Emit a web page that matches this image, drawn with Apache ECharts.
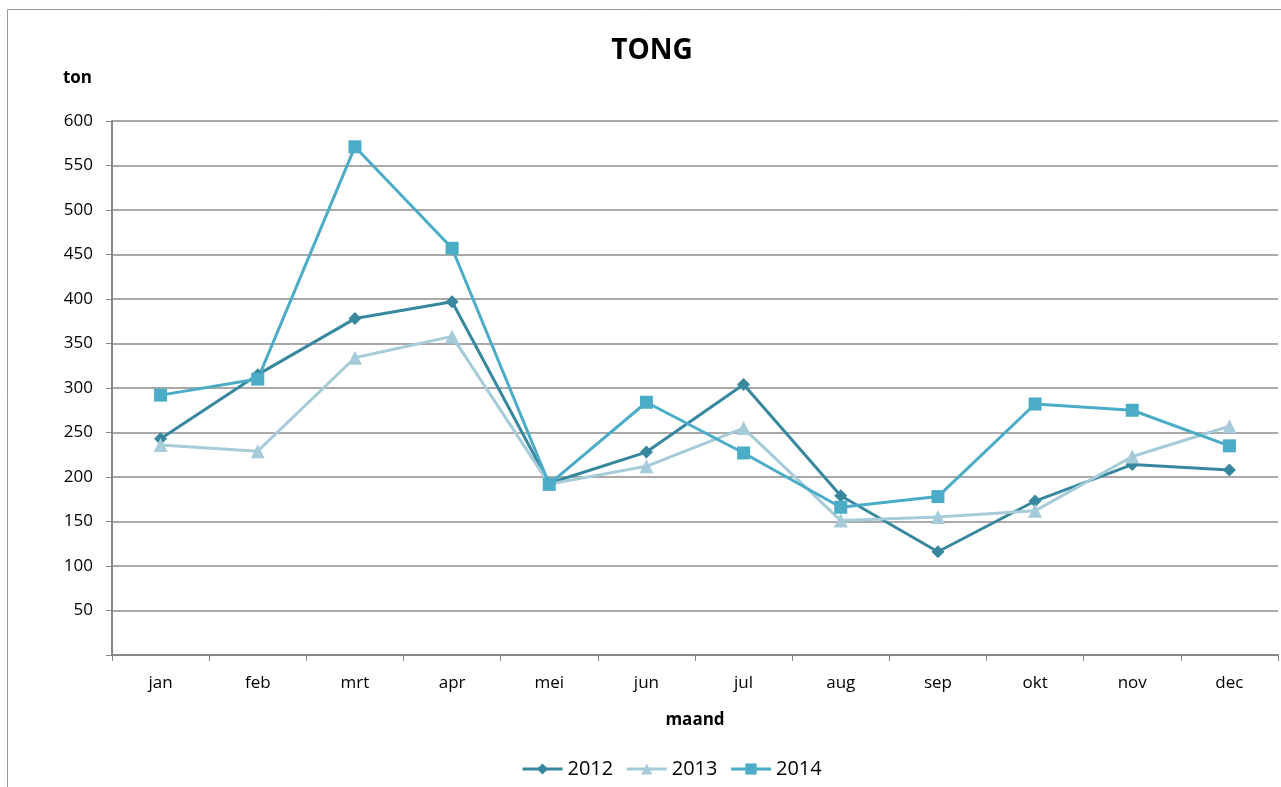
<!DOCTYPE html>
<html>
<head>
<meta charset="utf-8">
<script src="https://cdn.jsdelivr.net/npm/echarts@6/dist/echarts.min.js"></script>
<style>
  html, body { margin: 0; padding: 0; background: #fff; }
  #chart { width: 1281px; height: 787px; }
</style>
</head>
<body>
<div id="chart"></div>
<script>
// data
var months = ['jan', 'feb', 'mrt', 'apr', 'mei', 'jun', 'jul', 'aug', 'sep', 'okt', 'nov', 'dec'];
var data2012 = [243, 315, 378, 397, 193, 228, 304, 179, 116, 173, 214, 208];
var data2013 = [236, 229, 334, 358, 192, 212, 255, 151, 155, 162, 223, 257];
var data2014 = [292, 310, 571, 457, 192, 284, 227, 166, 178, 282, 275, 235];

var font = '"Open Sans", "Noto Sans", sans-serif';
var chart = echarts.init(document.getElementById('chart'));

function line(name, data, color, symbol, size) {
  return {
    name: name,
    type: 'line',
    data: data,
    symbol: symbol,
    symbolSize: size,
    showAllSymbol: true,
    lineStyle: { color: color, width: 3 },
    itemStyle: { color: color },
    animation: false
  };
}

chart.setOption({
  animation: false,
  title: {
    text: 'TONG',
    left: 647,
    top: 32,
    textAlign: 'center',
    textStyle: { fontFamily: font, fontSize: 28, fontWeight: 'bold', color: '#000' }
  },
  legend: {
    top: 754,
    left: 516,
    itemWidth: 40,
    itemHeight: 14,
    itemGap: 12,
    lineStyle: { width: 3 },
    textStyle: { fontFamily: font, fontSize: 20, color: '#000' },
    data: ['2012', '2013', '2014']
  },
  graphic: [{
    type: 'rect',
    shape: { x: 7.5, y: 9.5, width: 1400, height: 900 },
    style: { fill: 'none', stroke: '#999', lineWidth: 1 },
    silent: true
  }],
  grid: { left: 112, right: 3, top: 121, bottom: 132 },
  xAxis: {
    type: 'category',
    data: months,
    name: 'maand',
    nameLocation: 'middle',
    nameGap: 57,
    nameTextStyle: { fontFamily: font, fontSize: 17, fontWeight: 'bold', color: '#000' },
    axisLine: { lineStyle: { color: '#888', width: 2 } },
    axisTick: { show: true, length: 6, lineStyle: { color: '#888' } },
    axisLabel: { fontFamily: font, fontSize: 17, color: '#000', margin: 20 },
    splitLine: { show: false }
  },
  yAxis: {
    type: 'value',
    min: 0,
    max: 600,
    interval: 50,
    name: 'ton',
    nameLocation: 'end',
    nameGap: 34,
    nameTextStyle: { fontFamily: font, fontSize: 17, fontWeight: 'bold', color: '#000', align: 'right', padding: [0, 20, 0, 0] },
    axisLine: { show: true, lineStyle: { color: '#888', width: 2 } },
    axisTick: { show: true, length: 6, lineStyle: { color: '#888' } },
    axisLabel: {
      fontFamily: font, fontSize: 17, color: '#000', margin: 19,
      formatter: function (v) { return v === 0 ? '' : v; }
    },
    splitLine: { show: true, lineStyle: { color: '#8c8c8c', width: 1.5 } }
  },
  series: [
    line('2012', data2012, '#37889f', 'diamond', 13),
    line('2013', data2013, '#a6cbd9', 'triangle', 14),
    line('2014', data2014, '#4aacc6', 'rect', 13)
  ]
});
</script>
</body>
</html>
